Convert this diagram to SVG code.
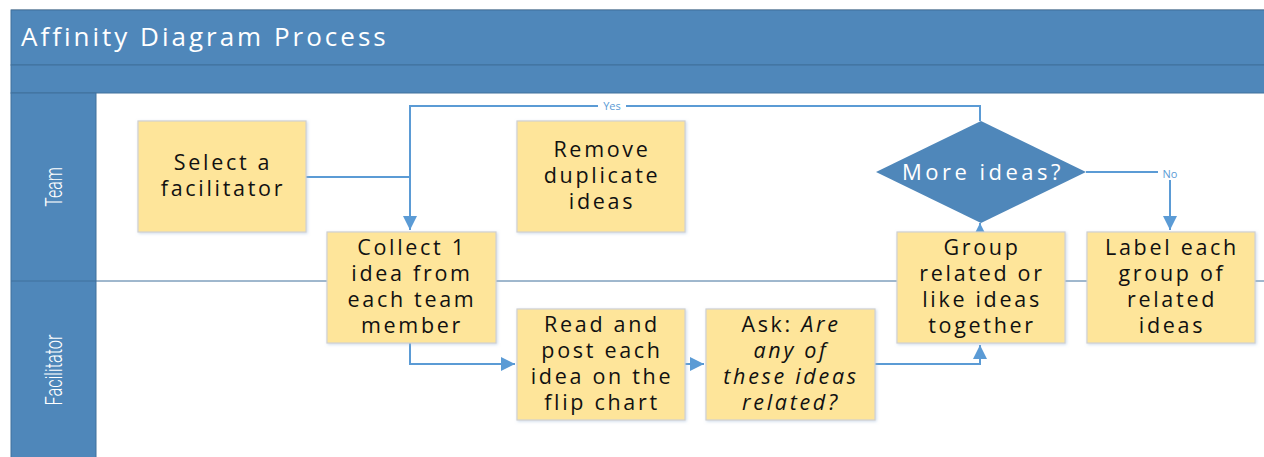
<svg xmlns="http://www.w3.org/2000/svg" width="1264" height="457" viewBox="0 0 1264 457">
<style>
.hdr{fill:#4f87ba;stroke:#41719c;stroke-width:1}
.box{fill:#fee59a;stroke:#d0d0d0;stroke-width:1.2}
.t{font-family:"Open Sans","Liberation Sans",sans-serif;font-size:21.5px;font-weight:500;letter-spacing:2.7px;fill:#111;text-anchor:middle}
.w{font-family:"Open Sans","Liberation Sans",sans-serif;fill:#fff}
.lane{font-family:"Roboto","Liberation Sans",sans-serif;font-size:24px;fill:#fff;text-anchor:middle;font-weight:300}
.c{fill:none;stroke:#5b9bd5;stroke-width:2}
.lbl{font-family:"Open Sans","Liberation Sans",sans-serif;font-size:11px;fill:#5b9bd5;text-anchor:middle}
</style>
<defs>
<marker id="ah" viewBox="0 0 10 10" refX="10" refY="5" markerWidth="9" markerHeight="14" markerUnits="userSpaceOnUse" orient="auto">
<path d="M0,0 L10,5 L0,10 z" fill="#5b9bd5"/>
</marker>
<marker id="ahb" viewBox="0 0 10 10" refX="10" refY="5" markerWidth="7" markerHeight="7" orient="auto">
<path d="M0,0 L10,5 L0,10 z" fill="#5b9bd5"/>
</marker>
<filter id="sh" x="-10%" y="-10%" width="130%" height="130%">
<feDropShadow dx="1" dy="1" stdDeviation="1.5" flood-color="#9db6d6" flood-opacity="0.5"/>
</filter>
</defs>
<rect width="1264" height="457" fill="#fff"/>
<g id="pool">
<line x1="11" y1="9.5" x2="1264" y2="9.5" stroke="#c8c8c8" stroke-width="1"/>
<rect class="hdr" x="11" y="10" width="1260" height="55"/>
<text class="w" x="21" y="46" font-size="26" letter-spacing="3">Affinity Diagram Process</text>
<rect class="hdr" x="11" y="65" width="1260" height="28"/>
<rect class="hdr" x="11" y="93" width="85" height="380"/>
<line x1="11" y1="281" x2="1264" y2="281" stroke="#41719c" stroke-width="1"/>
<text class="lane" transform="translate(62,187) rotate(-90) scale(0.66,1)">Team</text>
<text class="lane" transform="translate(62,370) rotate(-90) scale(0.68,1)">Facilitator</text>
</g>
<g id="connectors">
<polyline class="c" points="980,121 980,106 410,106 410,230" marker-end="url(#ahb)"/>
<line class="c" x1="306" y1="177" x2="410" y2="177" stroke-width="1.3"/>
<polyline class="c" points="410,343 410,364 515,364" marker-end="url(#ahb)"/>
<line class="c" x1="685" y1="364" x2="704" y2="364" marker-end="url(#ahb)"/>
<polyline class="c" points="875,364 980,364 980,345" marker-end="url(#ahb)"/>
<line class="c" x1="980" y1="232" x2="980" y2="223" marker-end="url(#ah)"/>
<polyline class="c" points="1086,172 1170,172 1170,230" marker-end="url(#ahb)"/>
<rect x="598" y="100" width="28" height="12" fill="#fff"/>
<text class="lbl" x="612" y="110">Yes</text>
<rect x="1158" y="168" width="24" height="12" fill="#fff"/>
<text class="lbl" x="1170" y="178">No</text>
</g>
<g id="n1"><rect class="box" filter="url(#sh)" x="138" y="121" width="168" height="111"/>
<text class="t" x="223" y="170">Select a</text><text class="t" x="223" y="196">facilitator</text></g>
<g id="n2"><rect class="box" filter="url(#sh)" x="517" y="121" width="168" height="111"/>
<text class="t" x="602" y="157">Remove</text><text class="t" x="602" y="183">duplicate</text><text class="t" x="602" y="209">ideas</text></g>
<g id="n3"><rect class="box" filter="url(#sh)" x="327" y="232" width="169" height="111"/>
<text class="t" x="412" y="255">Collect 1</text><text class="t" x="412" y="281">idea from</text><text class="t" x="412" y="307">each team</text><text class="t" x="412" y="333">member</text></g>
<g id="n4"><rect class="box" filter="url(#sh)" x="517" y="309" width="168" height="111"/>
<text class="t" x="602" y="332">Read and</text><text class="t" x="602" y="358">post each</text><text class="t" x="602" y="384">idea on the</text><text class="t" x="602" y="410">flip chart</text></g>
<g id="n5"><rect class="box" filter="url(#sh)" x="706" y="309" width="169" height="111"/>
<text class="t" x="791" y="332">Ask: <tspan font-style="italic">Are</tspan></text><text class="t" x="791" y="358" font-style="italic">any of</text><text class="t" x="791" y="384" font-style="italic">these ideas</text><text class="t" x="791" y="410" font-style="italic">related?</text></g>
<g id="n6"><rect class="box" filter="url(#sh)" x="897" y="232" width="168" height="111"/>
<text class="t" x="982" y="255">Group</text><text class="t" x="982" y="281">related or</text><text class="t" x="982" y="307">like ideas</text><text class="t" x="982" y="333">together</text></g>
<g id="n7"><rect class="box" filter="url(#sh)" x="1087" y="232" width="168" height="111"/>
<text class="t" x="1172" y="255">Label each</text><text class="t" x="1172" y="281">group of</text><text class="t" x="1172" y="307">related</text><text class="t" x="1172" y="333">ideas</text></g>
<g id="d1"><polygon points="981,121 1086,172 981,223 876,172" fill="#4f87ba"/>
<text class="w" x="983" y="180" font-size="22" letter-spacing="3.5" text-anchor="middle">More ideas?</text></g>
</svg>
